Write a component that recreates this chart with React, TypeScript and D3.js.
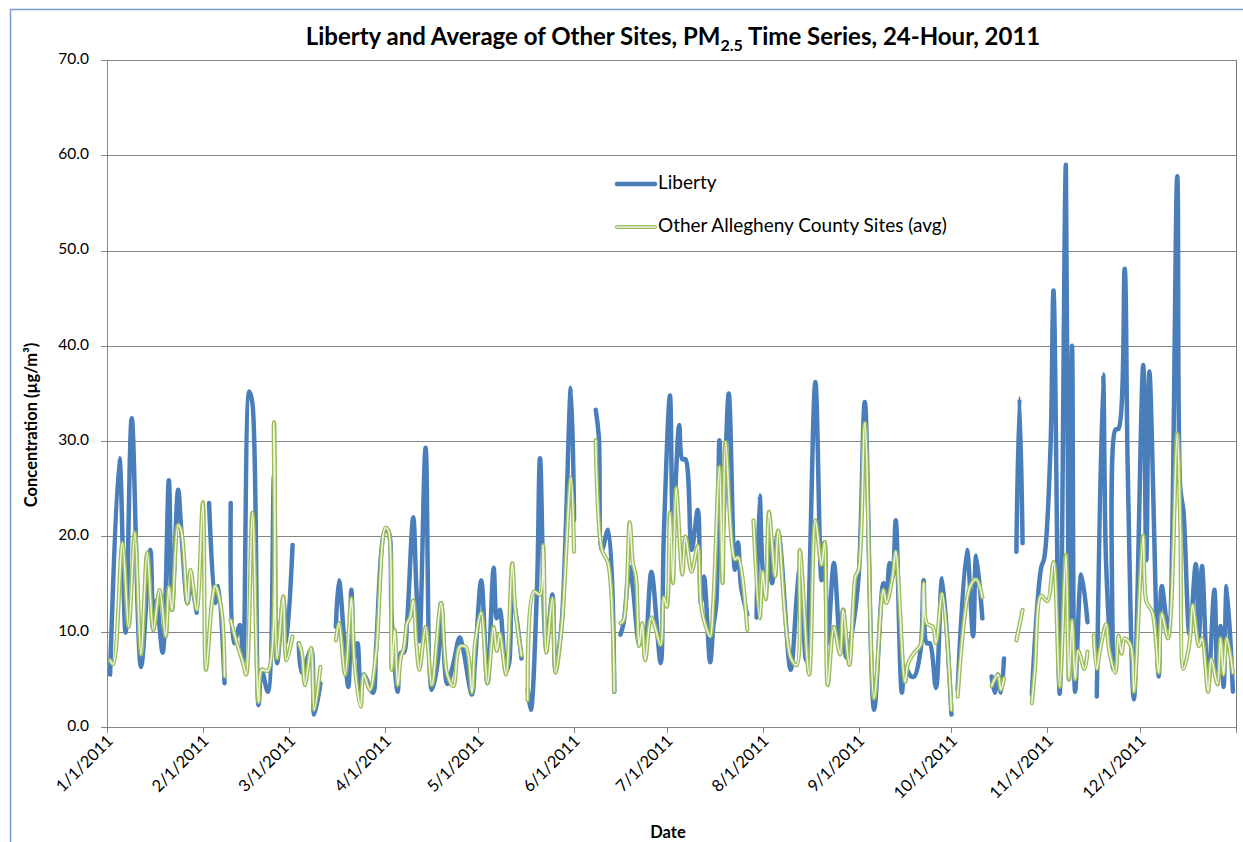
import React, { useEffect, useRef } from 'react';
import * as d3 from 'd3';

const W = 1243;
const H = 842;

const chartTitle = 'Liberty and Average of Other Sites, PM';
const titleSub = '2.5';
const titleRest = ' Time Series, 24-Hour, 2011';
const yAxisTitle = 'Concentration (µg/m³)';
const xAxisTitle = 'Date';
const seriesNames = ['Liberty', 'Other Allegheny County Sites (avg)'];
const yTicks = [0, 10, 20, 30, 40, 50, 60, 70];
const monthLabels = ['1/1/2011', '2/1/2011', '3/1/2011', '4/1/2011', '5/1/2011', '6/1/2011', '7/1/2011', '8/1/2011', '9/1/2011', '10/1/2011', '11/1/2011', '12/1/2011'];

// [day of year (0 = Jan 1), value]; null = missing data (line break)
const liberty: [number, number | null][] = [
  [1, 5.5], [4, 28.2], [6, 9.9], [8, 32.4], [11, 6.3], [14, 18.6], [15, 10.2], [16, 13.3], [18, 7.8], [20, 25.9], [21, 12.3], [23, 24.9], [24, 20.7], [26, 13.0], [27, 15.1], [29, 12.0], [31, null],
  [33, 23.5], [35, 13.0], [36, 14.8], [38, 4.6], [39, null],
  [40, 23.5], [41, 8.8], [43, 10.7], [44, 6.7], [46, 35.2], [47, 34.0], [49, 2.3], [50, 6.0], [52, 3.7], [54, 26.4], [55, 6.7], [57, 13.3], [58, 8.8], [60, 19.1], [61, null],
  [62, 8.8], [63, 5.7], [66, 8.1], [67, 1.3], [69, 4.6], [70, null],
  [74, 10.5], [75, 15.4], [78, 4.2], [79, 14.4], [80, 7.3], [81, 8.8], [82, 3.9], [83, 5.5], [86, 3.6], [87, 8.4], [90, 20.7], [91, 20.5], [92, 11.5], [94, 3.7], [95, 7.8], [96, 7.8], [97, 10.9], [99, 22.0], [100, 14.7], [101, 9.0], [103, 29.3], [105, 3.9], [107, 7.0], [108, 13.0], [110, 4.5], [112, 6.7], [114, 9.4], [115, 8.4], [118, 3.4], [119, 7.0], [121, 15.4], [123, 4.6], [125, 16.7], [126, 11.4], [127, 12.3], [129, 5.8], [130, 6.7], [131, 14.1], [134, 7.2], [135, null],
  [136, 3.9], [137, 1.8], [139, 14.4], [140, 28.2], [142, 8.4], [144, 13.9], [145, 6.0], [147, 10.9], [150, 35.6], [151, 21.7], [152, null],
  [158, 33.3], [159, 30.5], [160, 18.6], [162, 20.7], [164, 3.7], [165, null],
  [166, 9.7], [167, 10.9], [169, 16.8], [170, 14.7], [172, 8.8], [173, 10.5], [174, 7.8], [176, 16.3], [179, 6.7], [180, 19.9], [182, 34.8], [183, 21.0], [185, 31.7], [186, 28.1], [187, 28.1], [189, 18.6], [191, 22.8], [192, 13.0], [193, 15.8], [195, 6.8], [196, 10.5], [197, 13.0], [198, 30.1], [199, 20.3], [201, 35.0], [203, 16.5], [204, 19.4], [205, 14.7], [207, 11.8], [208, null],
  [210, 11.5], [211, 24.3], [212, 16.5], [213, 14.4], [214, 20.5], [215, 15.1], [217, 20.4], [221, 6.0], [223, 13.7], [224, 16.8], [226, 7.0], [229, 36.2], [231, 15.4], [232, 19.4], [233, 8.8], [235, 17.2], [237, 8.8], [238, 12.3], [239, 7.3], [241, 10.2], [243, 15.8], [245, 34.1], [248, 1.8], [251, 15.1], [252, 13.7], [253, 17.2], [254, 15.8], [255, 21.7], [257, 3.6], [258, 6.3], [260, 5.3], [261, 5.3], [263, 8.0], [264, 15.4], [265, 8.8], [266, 8.8], [268, 4.1], [270, 15.6], [273, 1.3], [274, null],
  [275, 3.9], [278, 18.6], [280, 9.5], [281, 18.0], [283, 11.4], [284, null],
  [286, 5.3], [287, 3.6], [288, 5.5], [289, 3.6], [290, 7.2], [291, null],
  [294, 18.4], [295, 34.5], [296, 19.3], [297, null],
  [299, 3.4], [302, 16.7], [303, 17.7], [305, 29.0], [306, 45.8], [308, 3.5], [310, 59.0], [311, 5.0], [312, 40.0], [313, 3.7], [315, 16.0], [317, 11.0], [318, null],
  [320, 3.2], [322, 37.0], [323, 17.2], [325, 6.1], [326, 31.2], [327, 31.3], [329, 48.1], [330, 27.0], [332, 2.9], [335, 38.0], [336, 17.5], [337, 37.3], [340, 5.3], [341, 14.8], [343, 10.4], [346, 57.8], [347, 25.0], [348, 22.7], [350, 9.7], [352, 17.1], [353, 9.3], [354, 16.9], [356, 4.5], [358, 14.4], [359, 4.5], [360, 10.6], [361, 4.2], [362, 14.8], [364, 3.7],
];

const otherSites: [number, number | null][] = [
  [1, 7.0], [2, 6.6], [5, 19.3], [7, 10.5], [9, 20.4], [11, 7.6], [13, 18.3], [15, 10.2], [17, 14.4], [19, 9.5], [20, 14.7], [21, 12.3], [23, 21.2], [24, 20.6], [26, 13.0], [27, 16.5], [29, 12.3], [31, 23.6], [32, 6.0], [34, 13.3], [35, 14.8], [37, 12.3], [38, 5.3], [39, null],
  [40, 11.2], [42, 8.8], [44, 6.7], [45, 5.5], [47, 22.5], [49, 2.6], [50, 6.0], [52, 5.9], [54, 32.0], [55, 7.2], [57, 13.7], [58, 7.0], [60, 9.5], [61, null],
  [62, 8.8], [63, 7.8], [64, 4.4], [66, 8.3], [67, 1.8], [69, 6.3], [70, null],
  [74, 9.1], [75, 10.9], [77, 5.5], [79, 13.5], [80, 6.7], [82, 2.1], [83, 5.5], [85, 3.9], [87, 7.8], [90, 20.9], [91, 20.6], [92, 6.0], [93, 10.2], [94, 4.4], [95, 7.3], [96, 8.3], [97, 10.9], [98, 11.5], [99, 13.3], [100, 8.8], [101, 6.0], [103, 10.5], [105, 4.4], [108, 13.0], [110, 5.5], [112, 4.3], [114, 8.4], [116, 8.4], [118, 3.6], [119, 8.8], [121, 12.0], [123, 4.6], [125, 10.5], [126, 8.0], [127, 9.8], [129, 5.5], [131, 17.2], [132, 12.3], [134, 7.5], [135, null],
  [136, 2.8], [138, 14.2], [140, 13.9], [141, 19.1], [142, 7.8], [144, 13.5], [145, 5.7], [147, 10.5], [150, 26.2], [151, 18.4], [152, null],
  [158, 30.1], [160, 18.6], [162, 17.2], [164, 3.7], [165, null],
  [166, 10.9], [167, 11.2], [169, 21.5], [170, 17.2], [171, 15.8], [172, 8.5], [173, 10.9], [174, 7.0], [176, 11.5], [179, 8.6], [180, 13.6], [181, 12.6], [182, 22.5], [183, 15.1], [184, 25.1], [186, 16.0], [187, 20.0], [189, 16.3], [191, 19.0], [192, 13.0], [193, 11.2], [195, 9.5], [196, 13.0], [198, 27.3], [199, 15.1], [200, 29.9], [203, 17.6], [204, 17.8], [207, 10.2], [208, null],
  [209, 21.7], [211, 11.4], [212, 16.3], [213, 13.4], [214, 22.6], [216, 15.8], [217, 20.6], [221, 7.3], [223, 6.5], [224, 18.6], [227, 5.5], [229, 21.7], [231, 17.0], [232, 19.4], [233, 4.4], [235, 10.5], [237, 7.6], [238, 12.3], [240, 6.5], [242, 15.8], [243, 16.5], [245, 31.9], [248, 3.0], [251, 14.4], [252, 13.0], [254, 15.8], [255, 18.4], [258, 4.7], [259, 6.7], [261, 7.8], [263, 8.6], [264, 15.1], [265, 10.9], [267, 10.5], [268, 8.8], [270, 14.0], [273, 1.8], [274, null],
  [275, 3.2], [279, 14.7], [281, 15.5], [283, 13.6], [284, null],
  [286, 4.3], [288, 5.5], [289, 3.9], [290, 5.1], [291, null],
  [294, 9.1], [296, 12.3], [297, null],
  [299, 2.5], [300, 6.1], [302, 13.8], [304, 13.2], [306, 17.3], [308, 4.2], [310, 18.1], [311, 5.0], [312, 11.2], [313, 5.0], [314, 8.0], [316, 6.1], [317, 7.9], [318, null],
  [319, 9.6], [320, 6.1], [321, 8.0], [323, 10.8], [324, 8.0], [326, 5.7], [327, 9.6], [328, 7.7], [329, 9.3], [331, 8.5], [332, 3.7], [335, 20.1], [336, 13.2], [338, 12.0], [340, 5.7], [341, 11.9], [343, 9.3], [346, 30.8], [347, 21.2], [348, 6.1], [350, 8.9], [351, 12.8], [353, 8.5], [354, 9.3], [356, 3.7], [357, 7.1], [359, 4.5], [360, 9.3], [361, 5.5], [362, 9.3], [364, 5.7],
];

const FONT = 'Lato, "Open Sans", sans-serif';
const BLUE = '#4A7EBB';
const GREEN = '#9BBB59';
const GREEN_IN = '#EEF4E1';
const GRID = '#868686';

export default function App() {
  const ref = useRef<SVGSVGElement>(null);

  useEffect(() => {
    const svg = d3.select(ref.current);
    svg.selectAll('*').remove();

    const left = 107, right = 1236, top = 60, bottom = 727;
    const dayToDate = (d: number) => new Date(2011, 0, 1 + d);
    const x = d3.scaleTime().domain([new Date(2011, 0, 1), new Date(2012, 0, 1)]).range([left, right]);
    const y = d3.scaleLinear().domain([0, 70]).range([bottom, top]);

    svg.append('rect').attr('x', 0).attr('y', 0).attr('width', W).attr('height', H).attr('fill', '#fff');
    // outer chart border
    svg.append('path').attr('d', `M10.5,${H + 5} L10.5,9.5 L${W + 5},9.5`).attr('fill', 'none').attr('stroke', '#7A9CCB').attr('stroke-width', 1.5);

    // gridlines + y ticks
    const g = svg.append('g');
    yTicks.forEach((t) => {
      if (t === 0) return;
      g.append('line').attr('x1', left - 6).attr('x2', right).attr('y1', Math.round(y(t)) + 0.5).attr('y2', Math.round(y(t)) + 0.5).attr('stroke', GRID).attr('stroke-width', 1);
    });
    yTicks.forEach((t) => {
      g.append('text').attr('x', 89).attr('y', y(t)).attr('text-anchor', 'end').attr('dominant-baseline', 'middle')
        .attr('font-family', FONT).attr('font-size', 15.5).attr('fill', '#000').text(t.toFixed(1));
    });
    // axes
    g.append('line').attr('x1', left + 0.5).attr('x2', left + 0.5).attr('y1', top).attr('y2', bottom).attr('stroke', GRID);
    g.append('line').attr('x1', right + 0.5).attr('x2', right + 0.5).attr('y1', top).attr('y2', bottom).attr('stroke', '#777');
    g.append('line').attr('x1', left - 6).attr('x2', right).attr('y1', bottom + 0.5).attr('y2', bottom + 0.5).attr('stroke', GRID);

    const months = d3.timeMonth.range(new Date(2011, 0, 1), new Date(2012, 0, 2));
    months.forEach((m) => {
      const xm = Math.round(x(m)) + 0.5;
      g.append('line').attr('x1', xm).attr('x2', xm).attr('y1', bottom).attr('y2', bottom + 6).attr('stroke', GRID);
    });
    monthLabels.forEach((lab, i) => {
      const xm = x(new Date(2011, i, 1));
      g.append('text').attr('transform', `translate(${xm + 4},${bottom + 12}) rotate(-45)`)
        .attr('text-anchor', 'end').attr('dominant-baseline', 'middle')
        .attr('font-family', FONT).attr('font-size', 16.5).attr('fill', '#000').text(lab);
    });

    // series
    const line = d3.line<[number, number | null]>()
      .defined((d) => d[1] != null)
      .x((d) => x(dayToDate(d[0])))
      .y((d) => y(d[1] as number))
      .curve(d3.curveCatmullRom.alpha(0.5));

    svg.append('path').attr('d', line(liberty) || '').attr('fill', 'none').attr('stroke', BLUE)
      .attr('stroke-width', 4.5).attr('stroke-linejoin', 'round').attr('stroke-linecap', 'round');
    svg.append('path').attr('d', line(otherSites) || '').attr('fill', 'none').attr('stroke', GREEN)
      .attr('stroke-width', 4.2).attr('stroke-linejoin', 'round').attr('stroke-linecap', 'round');
    svg.append('path').attr('d', line(otherSites) || '').attr('fill', 'none').attr('stroke', GREEN_IN)
      .attr('stroke-width', 1.6).attr('stroke-linejoin', 'round').attr('stroke-linecap', 'round');

    // legend
    const lg = svg.append('g');
    lg.append('line').attr('x1', 617).attr('x2', 655).attr('y1', 184).attr('y2', 184).attr('stroke', BLUE).attr('stroke-width', 4.5).attr('stroke-linecap', 'round');
    lg.append('text').attr('x', 658).attr('y', 184).attr('dominant-baseline', 'middle').attr('font-family', FONT).attr('font-size', 19).attr('fill', '#000').text(seriesNames[0]);
    lg.append('line').attr('x1', 617).attr('x2', 655).attr('y1', 227).attr('y2', 227).attr('stroke', GREEN).attr('stroke-width', 4.2).attr('stroke-linecap', 'round');
    lg.append('line').attr('x1', 617).attr('x2', 655).attr('y1', 227).attr('y2', 227).attr('stroke', GREEN_IN).attr('stroke-width', 1.6).attr('stroke-linecap', 'round');
    lg.append('text').attr('x', 658).attr('y', 227).attr('dominant-baseline', 'middle').attr('font-family', FONT).attr('font-size', 19).attr('fill', '#000').text(seriesNames[1]);

    // titles
    const tt = svg.append('text').attr('x', 673).attr('y', 45).attr('text-anchor', 'middle')
      .attr('font-family', FONT).attr('font-weight', 'bold').attr('font-size', 24).attr('fill', '#000');
    tt.append('tspan').text(chartTitle);
    tt.append('tspan').attr('font-size', 16).attr('dy', 6).text(titleSub);
    tt.append('tspan').attr('dy', -6).text(titleRest);

    svg.append('text').attr('transform', `translate(37,${425}) rotate(-90)`).attr('text-anchor', 'middle')
      .attr('font-family', FONT).attr('font-weight', 'bold').attr('font-size', 16.5).attr('fill', '#000').text(yAxisTitle);
    svg.append('text').attr('x', 668).attr('y', 838).attr('text-anchor', 'middle')
      .attr('font-family', FONT).attr('font-weight', 'bold').attr('font-size', 16.5).attr('fill', '#000').text(xAxisTitle);
  }, []);

  return (
    <svg ref={ref} width={W} height={H} style={{ position: 'absolute', left: 0, top: 0, display: 'block' }} />
  );
}
